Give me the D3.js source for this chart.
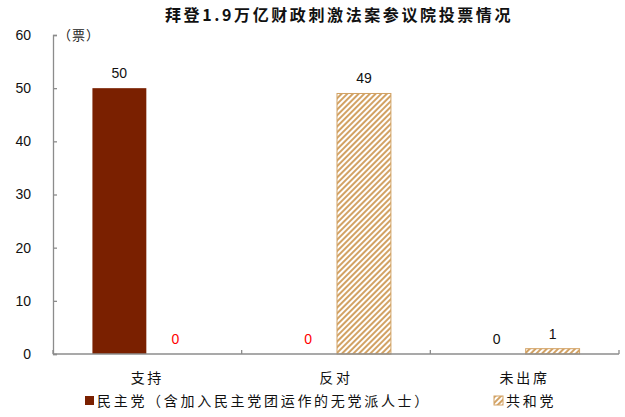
<!DOCTYPE html>
<html>
<head>
<meta charset="utf-8">
<script src="https://cdn.jsdelivr.net/npm/d3@7"></script>
<style>
  body { margin: 0; background: #fff; }
  text { font-family: "Liberation Sans", Arial, sans-serif; }
  .cjk { font-family: "Noto Sans CJK SC", sans-serif; }
</style>
</head>
<body>
<svg id="chart" width="625" height="417"></svg>
<script>
// data
const categories = ["支持", "反对", "未出席"];
const seriesNames = ["民主党（含加入民主党团运作的无党派人士）", "共和党"];
const demVotes = [50, 0, 0];
const repVotes = [0, 49, 1];
const yTicks = [0, 10, 20, 30, 40, 50, 60];

const title = "拜登1.9万亿财政刺激法案参议院投票情况";
const unitLabel = "（票）";

const demColor = "#7a2000";
const repColor = "#d2a264";
const axisColor = "#8c8c8c";

const svg = d3.select("#chart");

// scales
const x = d3.scaleBand()
    .domain(categories)
    .range([53, 619])
    .paddingInner(0)
    .paddingOuter(0);

const xSub = d3.scaleBand()
    .domain([0, 1])
    .range([0, x.bandwidth()])
    .paddingInner(0.036)
    .paddingOuter(0.705);

const y = d3.scaleLinear()
    .domain([0, 60])
    .range([354, 35]);

// hatch pattern for the republicans
const defs = svg.append("defs");
const pat = defs.append("pattern")
    .attr("id", "hatch")
    .attr("patternUnits", "userSpaceOnUse")
    .attr("width", 4)
    .attr("height", 4)
    .attr("patternTransform", "rotate(45)");
pat.append("rect").attr("width", 4).attr("height", 4).attr("fill", "#fff");
pat.append("rect").attr("width", 2).attr("height", 4).attr("fill", repColor);

// title
svg.append("text")
    .attr("class", "cjk")
    .attr("x", 339)
    .attr("y", 21)
    .attr("text-anchor", "middle")
    .attr("font-size", 16)
    .attr("font-weight", "bold")
    .attr("letter-spacing", 2.6)
    .attr("fill", "#111")
    .text(title);

// y axis
const yAxis = svg.append("g")
    .attr("transform", "translate(53,0)")
    .call(d3.axisLeft(y).tickValues(yTicks).tickSize(-4).tickPadding(22));
yAxis.select(".domain").attr("stroke", axisColor).attr("stroke-width", 1.3);
yAxis.selectAll(".tick line").attr("stroke", axisColor).attr("stroke-width", 1.3);
yAxis.selectAll(".tick text")
    .attr("font-size", 14)
    .attr("fill", "#111")
    .style("font-family", "'Liberation Sans', Arial, sans-serif");

svg.append("text")
    .attr("class", "cjk")
    .attr("x", 58)
    .attr("y", 40)
    .attr("font-size", 13)
    .attr("letter-spacing", 1)
    .attr("fill", "#222")
    .text(unitLabel);

// bars
const rows = categories.map((c, i) => ({cat: c, i: i, vals: [demVotes[i], repVotes[i]]}));

const groups = svg.selectAll(".grp")
    .data(rows)
    .enter()
    .append("g")
    .attr("class", "grp")
    .attr("transform", d => `translate(${x(d.cat)},0)`);

groups.selectAll("rect")
    .data(d => d.vals.map((v, s) => ({v: v, s: s, ci: d.i})))
    .enter()
    .append("rect")
    .attr("x", d => xSub(d.s))
    .attr("y", d => y(d.v))
    .attr("width", xSub.bandwidth())
    .attr("height", d => y(0) - y(d.v))
    .attr("fill", d => d.s === 0 ? demColor : "url(#hatch)")
    .attr("stroke", d => d.s === 0 ? "none" : repColor)
    .attr("stroke-width", 1)
    .attr("display", d => d.v === 0 ? "none" : null);

// value labels
groups.selectAll(".val")
    .data(d => d.vals.map((v, s) => ({v: v, s: s, ci: d.i})))
    .enter()
    .append("text")
    .attr("class", "val")
    .attr("x", d => xSub(d.s) + xSub.bandwidth() / 2)
    .attr("y", d => d.v === 0 ? y(0) - 10 : y(d.v) - 10)
    .attr("text-anchor", "middle")
    .attr("font-size", 14)
    .attr("fill", d => (d.v === 0 && d.ci < 2) ? "#ff0000" : "#111")
    .text(d => d.v);

// x axis
const xAxis = svg.append("g")
    .attr("transform", `translate(0,${y(0)})`);
xAxis.append("line")
    .attr("x1", x.range()[0]).attr("x2", x.range()[1])
    .attr("stroke", axisColor).attr("stroke-width", 1.3);
xAxis.selectAll(".xt")
    .data(categories.map(c => x(c)).concat([x.range()[1]]))
    .enter()
    .append("line")
    .attr("x1", d => d).attr("x2", d => d)
    .attr("y1", 0).attr("y2", -4)
    .attr("stroke", axisColor).attr("stroke-width", 1.3);
xAxis.selectAll(".xl")
    .data(categories)
    .enter()
    .append("text")
    .attr("class", "cjk")
    .attr("x", d => x(d) + x.bandwidth() / 2)
    .attr("y", 29)
    .attr("text-anchor", "middle")
    .attr("font-size", 14)
    .attr("letter-spacing", 2.7)
    .attr("fill", "#111")
    .text(d => d);

// legend
const legendX = [85, 494];
const legend = svg.selectAll(".leg")
    .data(seriesNames)
    .enter()
    .append("g")
    .attr("class", "leg")
    .attr("transform", (d, i) => `translate(${legendX[i]},396)`);
legend.append("rect")
    .attr("width", 9).attr("height", 9)
    .attr("fill", (d, i) => i === 0 ? demColor : "url(#hatch)")
    .attr("stroke", (d, i) => i === 0 ? "none" : repColor);
legend.append("text")
    .attr("class", "cjk")
    .attr("x", 12)
    .attr("y", 10)
    .attr("font-size", 14)
    .attr("letter-spacing", 2.7)
    .attr("fill", "#111")
    .text(d => d);
</script>
</body>
</html>
